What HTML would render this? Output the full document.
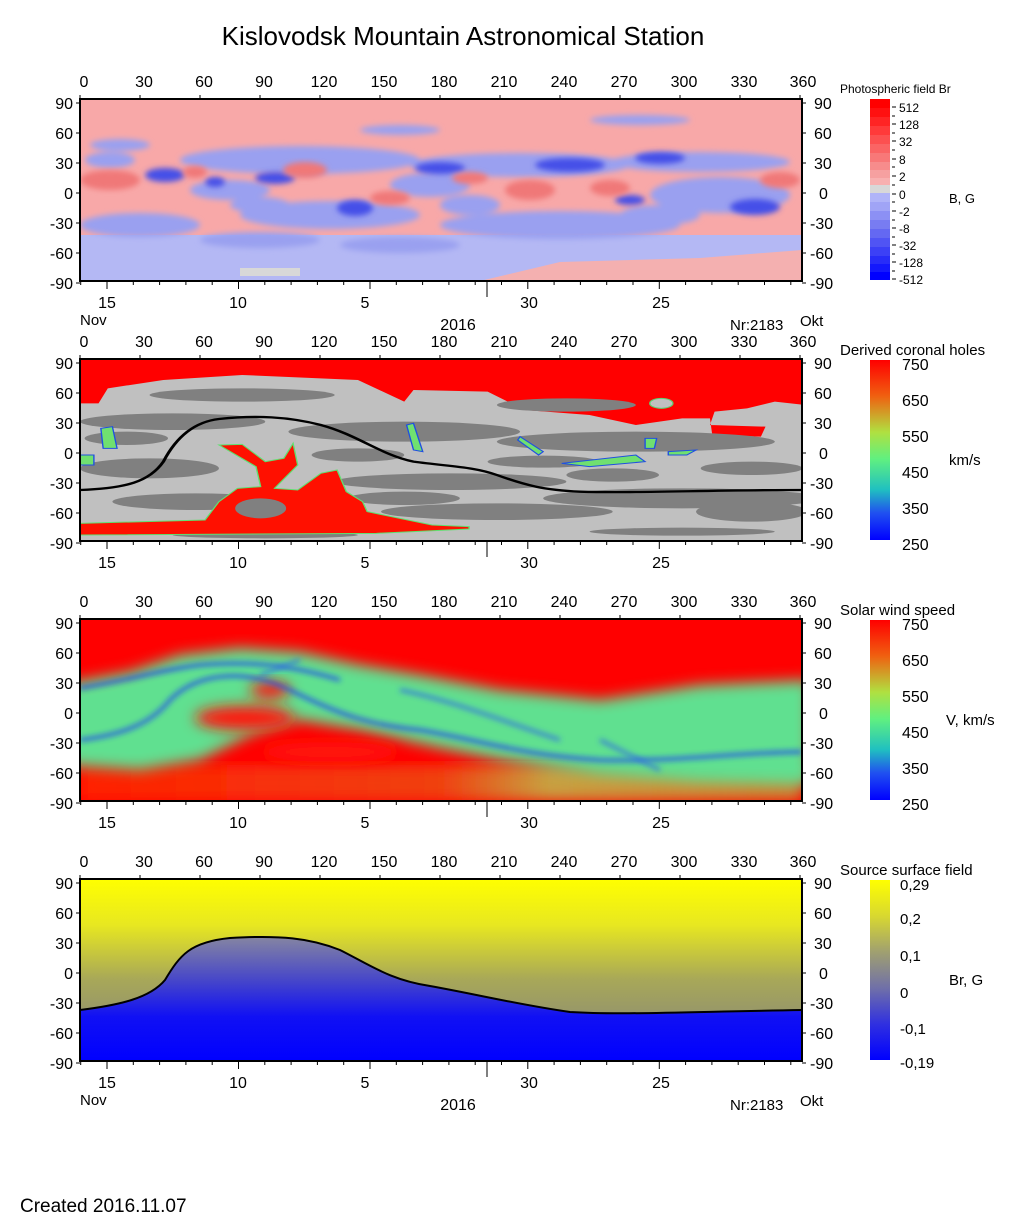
<!DOCTYPE html>
<html><head><meta charset="utf-8"><style>
body{margin:0;background:#fff}
svg{display:block;font-family:"Liberation Sans",Arial,sans-serif}
</style></head><body>
<svg width="1020" height="1223" viewBox="0 0 1020 1223" xmlns="http://www.w3.org/2000/svg">
<defs>
<filter id="b3"><feGaussianBlur stdDeviation="3"/></filter>
<filter id="b6"><feGaussianBlur stdDeviation="7"/></filter>
<clipPath id="c1"><rect x="80" y="99" width="722" height="182"/></clipPath>
<clipPath id="c2"><rect x="80" y="359" width="722" height="182"/></clipPath>
<clipPath id="c3"><rect x="80" y="619" width="722" height="182"/></clipPath>
<clipPath id="c4"><rect x="80" y="879" width="722" height="182"/></clipPath>
<linearGradient id="rain" x1="0" y1="0" x2="0" y2="1">
<stop offset="0" stop-color="#ff0000"/><stop offset="0.2" stop-color="#f06010"/><stop offset="0.4" stop-color="#b0e040"/><stop offset="0.55" stop-color="#60f080"/><stop offset="0.72" stop-color="#20c0c0"/><stop offset="0.85" stop-color="#2050f0"/><stop offset="1" stop-color="#0000ff"/></linearGradient>
<linearGradient id="ssf" x1="0" y1="0" x2="0" y2="1">
<stop offset="0" stop-color="#ffff00"/><stop offset="0.2" stop-color="#d8d830"/><stop offset="0.4" stop-color="#a0a070"/><stop offset="0.6" stop-color="#7070a8"/><stop offset="0.8" stop-color="#3030e0"/><stop offset="1" stop-color="#0000ff"/></linearGradient>
<linearGradient id="up4" gradientUnits="userSpaceOnUse" x1="0" y1="879" x2="0" y2="1061">
<stop offset="0" stop-color="#ffff00"/><stop offset="0.25" stop-color="#e8e820"/><stop offset="0.55" stop-color="#a8a858"/><stop offset="1" stop-color="#808080"/></linearGradient>
<linearGradient id="dn4" gradientUnits="userSpaceOnUse" x1="0" y1="935" x2="0" y2="1061">
<stop offset="0" stop-color="#8888a0"/><stop offset="0.35" stop-color="#4848c8"/><stop offset="0.65" stop-color="#1010f4"/><stop offset="1" stop-color="#0000ff"/></linearGradient>
<linearGradient id="bot3" gradientUnits="userSpaceOnUse" x1="80" y1="0" x2="802" y2="0">
<stop offset="0" stop-color="#ff2000"/><stop offset="0.5" stop-color="#f04010"/><stop offset="0.65" stop-color="#c8a040"/><stop offset="1" stop-color="#d08030"/></linearGradient>
<g id="ticks">
<path d="M80,-4V0M140,-4V0M200,-4V0M260,-4V0M320,-4V0M380,-4V0M440,-4V0M500,-4V0M560,-4V0M620,-4V0M680,-4V0M740,-4V0M800,-4V0" stroke="#000" stroke-width="1"/>
<path d="M76,4H80M76,34H80M76,64H80M76,94H80M76,124H80M76,154H80M76,184H80M802,4H806M802,34H806M802,64H806M802,94H806M802,124H806M802,154H806M802,184H806" stroke="#000"/>
<path d="M80.7,182v4M133.3,182v4M159.6,182v4M185.9,182v4M212.2,182v4M264.8,182v4M291.1,182v4M317.4,182v4M343.7,182v4M396.3,182v4M422.6,182v4M448.9,182v4M475.2,182v4M501.5,182v4M554.1,182v4M580.4,182v4M606.7,182v4M633,182v4M685.6,182v4M711.9,182v4M738.2,182v4M764.5,182v4M790.8,182v4M107,182v8M238.5,182v8M370,182v8M527.8,182v8M659.3,182v8M487,182v16" stroke="#000"/>
</g>
</defs>

<text x="463" y="45" font-size="26" text-anchor="middle">Kislovodsk Mountain Astronomical Station</text>

<!-- PANEL 1 -->
<g clip-path="url(#c1)">
<rect x="80" y="99" width="722" height="182" fill="#f8a8a8"/>
<rect x="80" y="235" width="722" height="46" fill="#b4b8f4"/>
<path d="M480,281 L560,262 L700,258 L802,250 L802,281Z" fill="#f4b0b0"/>
<rect x="240" y="268" width="60" height="8" fill="#d8d8d8"/>
<g fill="#9aa0f0" filter="url(#b3)">
<ellipse cx="300" cy="160" rx="120" ry="14"/><ellipse cx="520" cy="165" rx="110" ry="12"/><ellipse cx="700" cy="162" rx="90" ry="10"/>
<ellipse cx="140" cy="225" rx="60" ry="12"/><ellipse cx="330" cy="215" rx="90" ry="14"/><ellipse cx="560" cy="225" rx="120" ry="14"/><ellipse cx="720" cy="195" rx="70" ry="18"/>
<ellipse cx="230" cy="190" rx="40" ry="10"/><ellipse cx="470" cy="205" rx="30" ry="10"/><ellipse cx="120" cy="145" rx="30" ry="6"/><ellipse cx="400" cy="130" rx="40" ry="5"/><ellipse cx="640" cy="120" rx="50" ry="5"/>
<ellipse cx="260" cy="240" rx="60" ry="8"/><ellipse cx="400" cy="245" rx="60" ry="8"/>
<ellipse cx="430" cy="185" rx="40" ry="12"/><ellipse cx="260" cy="205" rx="30" ry="8"/><ellipse cx="660" cy="215" rx="40" ry="10"/><ellipse cx="110" cy="160" rx="25" ry="8"/>
</g>
<g fill="#4450e8" filter="url(#b3)">
<ellipse cx="165" cy="175" rx="20" ry="7"/><ellipse cx="215" cy="182" rx="10" ry="5"/><ellipse cx="275" cy="178" rx="20" ry="6"/><ellipse cx="355" cy="208" rx="18" ry="8"/><ellipse cx="440" cy="168" rx="25" ry="6"/><ellipse cx="570" cy="165" rx="35" ry="7"/><ellipse cx="660" cy="158" rx="25" ry="6"/><ellipse cx="755" cy="207" rx="25" ry="8"/><ellipse cx="630" cy="200" rx="15" ry="5"/>
</g>
<g fill="#f07878" filter="url(#b3)">
<ellipse cx="110" cy="180" rx="30" ry="10"/><ellipse cx="195" cy="172" rx="12" ry="6"/><ellipse cx="305" cy="170" rx="22" ry="8"/><ellipse cx="390" cy="198" rx="20" ry="7"/><ellipse cx="530" cy="190" rx="25" ry="10"/><ellipse cx="610" cy="188" rx="20" ry="8"/><ellipse cx="470" cy="178" rx="18" ry="6"/><ellipse cx="780" cy="180" rx="20" ry="8"/>
</g>
</g>
<rect x="80" y="99" width="722" height="182" fill="none" stroke="#000" stroke-width="2"/>
<use href="#ticks" transform="translate(0,99)"/>

<!-- PANEL 2 -->
<g clip-path="url(#c2)">
<rect x="80" y="359" width="722" height="182" fill="#c0c0c0"/>
<g transform="translate(80,355) scale(0.4632,0.3333)">
<path d="M0,13 H1565 V150 L1500,140 L1440,160 L1370,170 L1360,210 L1480,215 L1470,245 L1365,240 L1360,190 L1300,190 L1200,210 L1100,180 L960,165 L880,110 L720,105 L700,140 L600,75 L350,60 L180,75 L60,100 L40,145 L0,145Z" fill="#ff0000"/>
<g fill="#808080">
<ellipse cx="200" cy="200" rx="200" ry="25"/><ellipse cx="700" cy="230" rx="250" ry="30"/><ellipse cx="1200" cy="260" rx="300" ry="30"/><ellipse cx="350" cy="120" rx="200" ry="20"/><ellipse cx="1050" cy="150" rx="150" ry="20"/>
<ellipse cx="150" cy="340" rx="150" ry="30"/><ellipse cx="800" cy="380" rx="250" ry="25"/><ellipse cx="1300" cy="430" rx="300" ry="30"/><ellipse cx="250" cy="440" rx="180" ry="25"/><ellipse cx="900" cy="470" rx="250" ry="25"/>
<ellipse cx="600" cy="300" rx="100" ry="20"/><ellipse cx="1000" cy="320" rx="120" ry="18"/><ellipse cx="1450" cy="340" rx="110" ry="20"/><ellipse cx="400" cy="540" rx="200" ry="10"/><ellipse cx="1300" cy="530" rx="200" ry="12"/>
<ellipse cx="1450" cy="470" rx="120" ry="30"/><ellipse cx="700" cy="430" rx="120" ry="20"/><ellipse cx="100" cy="250" rx="90" ry="20"/><ellipse cx="1150" cy="360" rx="100" ry="20"/>
</g>
<path d="M0,505 L270,495 L300,440 L340,400 L390,395 L380,335 L300,270 L350,268 L400,320 L440,310 L460,265 L470,330 L420,400 L470,405 L520,355 L555,345 L575,410 L610,440 L620,470 L760,510 L840,515 L840,522 L640,535 L0,540Z" fill="#ff1000" stroke="#60e070" stroke-width="3"/>
<ellipse cx="390" cy="460" rx="55" ry="30" fill="#808080"/>
<path d="M1040,325 L1200,300 L1220,320 L1100,335Z M1270,290 L1330,285 L1310,300 L1270,300Z M1220,250 L1245,250 L1240,280 L1220,280Z M45,220 L70,215 L80,280 L50,280Z M705,210 L720,205 L740,290 L720,285Z M0,300 L30,300 L30,330 L0,330Z M950,245 L1000,290 L990,300 L945,255Z" fill="#70e070" stroke="#2050e0" stroke-width="3"/>
<ellipse cx="1255" cy="145" rx="25" ry="15" fill="#c0c0c0" stroke="#60d070" stroke-width="3"/>
<path d="M0,405 C100,400 150,380 180,320 C210,240 250,200 300,192 C380,180 450,185 520,210 C600,240 650,300 720,320 C800,335 850,335 900,360 C960,390 1000,405 1080,410 C1200,415 1350,405 1560,405" fill="none" stroke="#000" stroke-width="7"/>
</g>
</g>
<rect x="80" y="359" width="722" height="182" fill="none" stroke="#000" stroke-width="2"/>
<use href="#ticks" transform="translate(0,359)"/>

<!-- PANEL 3 -->
<g clip-path="url(#c3)">
<rect x="80" y="619" width="722" height="182" fill="#ff0000"/>
<rect x="80" y="765" width="722" height="36" fill="url(#bot3)" filter="url(#b6)"/>
<path d="M60,685 L130,672 L180,655 L240,648 L300,652 L360,665 L420,675 L500,690 L600,700 L700,685 L810,680 L810,785 L700,782 L600,775 L500,760 L440,748 L360,730 L300,720 L250,735 L200,760 L140,770 L60,765Z" fill="#60e090" filter="url(#b6)"/>
<g fill="#ff1808" filter="url(#b6)">
<ellipse cx="245" cy="718" rx="50" ry="12"/><ellipse cx="330" cy="752" rx="70" ry="10"/><ellipse cx="270" cy="690" rx="20" ry="8"/>
</g>
<path d="M80,688 C130,680 160,670 200,665 C260,660 300,668 340,680 M80,740 C120,735 150,725 170,700 C200,670 250,670 290,690 C340,715 370,725 420,730 C480,740 520,755 600,760 C680,762 740,752 802,752" fill="none" stroke="#1a40f0" stroke-width="3" filter="url(#b3)"/>
<path d="M400,690 C450,700 500,720 560,740 M600,740 L660,770 M260,675 L300,660" fill="none" stroke="#3070e0" stroke-width="3" filter="url(#b3)"/>
</g>
<rect x="80" y="619" width="722" height="182" fill="none" stroke="#000" stroke-width="2"/>
<use href="#ticks" transform="translate(0,619)"/>

<!-- PANEL 4 -->
<g clip-path="url(#c4)">
<rect x="80" y="879" width="722" height="182" fill="url(#up4)"/>
<path d="M80,1010 C120,1005 150,998 165,980 C180,955 190,942 230,938 C280,935 310,938 340,950 C370,965 390,980 430,986 C480,995 520,1005 570,1012 C620,1015 680,1012 802,1010 L802,1061 L80,1061Z" fill="url(#dn4)"/>
<path d="M80,1010 C120,1005 150,998 165,980 C180,955 190,942 230,938 C280,935 310,938 340,950 C370,965 390,980 430,986 C480,995 520,1005 570,1012 C620,1015 680,1012 802,1010" fill="none" stroke="#000" stroke-width="2"/>
</g>
<rect x="80" y="879" width="722" height="182" fill="none" stroke="#000" stroke-width="2"/>
<use href="#ticks" transform="translate(0,879)"/>

<!-- axis labels -->
<g font-size="16" text-anchor="middle">
<text x="84" y="87">0</text><text x="144" y="87">30</text><text x="204" y="87">60</text><text x="264" y="87">90</text><text x="324" y="87">120</text><text x="384" y="87">150</text><text x="444" y="87">180</text><text x="504" y="87">210</text><text x="564" y="87">240</text><text x="624" y="87">270</text><text x="684" y="87">300</text><text x="744" y="87">330</text><text x="803" y="87">360</text>
<text x="84" y="347">0</text><text x="144" y="347">30</text><text x="204" y="347">60</text><text x="264" y="347">90</text><text x="324" y="347">120</text><text x="384" y="347">150</text><text x="444" y="347">180</text><text x="504" y="347">210</text><text x="564" y="347">240</text><text x="624" y="347">270</text><text x="684" y="347">300</text><text x="744" y="347">330</text><text x="803" y="347">360</text>
<text x="84" y="607">0</text><text x="144" y="607">30</text><text x="204" y="607">60</text><text x="264" y="607">90</text><text x="324" y="607">120</text><text x="384" y="607">150</text><text x="444" y="607">180</text><text x="504" y="607">210</text><text x="564" y="607">240</text><text x="624" y="607">270</text><text x="684" y="607">300</text><text x="744" y="607">330</text><text x="803" y="607">360</text>
<text x="84" y="867">0</text><text x="144" y="867">30</text><text x="204" y="867">60</text><text x="264" y="867">90</text><text x="324" y="867">120</text><text x="384" y="867">150</text><text x="444" y="867">180</text><text x="504" y="867">210</text><text x="564" y="867">240</text><text x="624" y="867">270</text><text x="684" y="867">300</text><text x="744" y="867">330</text><text x="803" y="867">360</text>
</g>
<g font-size="16" text-anchor="end">
<text x="73" y="109">90</text><text x="73" y="139">60</text><text x="73" y="169">30</text><text x="73" y="199">0</text><text x="73" y="229">-30</text><text x="73" y="259">-60</text><text x="73" y="289">-90</text>
<text x="73" y="369">90</text><text x="73" y="399">60</text><text x="73" y="429">30</text><text x="73" y="459">0</text><text x="73" y="489">-30</text><text x="73" y="519">-60</text><text x="73" y="549">-90</text>
<text x="73" y="629">90</text><text x="73" y="659">60</text><text x="73" y="689">30</text><text x="73" y="719">0</text><text x="73" y="749">-30</text><text x="73" y="779">-60</text><text x="73" y="809">-90</text>
<text x="73" y="889">90</text><text x="73" y="919">60</text><text x="73" y="949">30</text><text x="73" y="979">0</text><text x="73" y="1009">-30</text><text x="73" y="1039">-60</text><text x="73" y="1069">-90</text>
</g>
<g font-size="16" text-anchor="start">
<text x="814" y="109">90</text><text x="814" y="139">60</text><text x="814" y="169">30</text><text x="819" y="199">0</text><text x="810" y="229">-30</text><text x="810" y="259">-60</text><text x="810" y="289">-90</text>
<text x="814" y="369">90</text><text x="814" y="399">60</text><text x="814" y="429">30</text><text x="819" y="459">0</text><text x="810" y="489">-30</text><text x="810" y="519">-60</text><text x="810" y="549">-90</text>
<text x="814" y="629">90</text><text x="814" y="659">60</text><text x="814" y="689">30</text><text x="819" y="719">0</text><text x="810" y="749">-30</text><text x="810" y="779">-60</text><text x="810" y="809">-90</text>
<text x="814" y="889">90</text><text x="814" y="919">60</text><text x="814" y="949">30</text><text x="819" y="979">0</text><text x="810" y="1009">-30</text><text x="810" y="1039">-60</text><text x="810" y="1069">-90</text>
</g>
<g font-size="16" text-anchor="middle">
<text x="107" y="308">15</text><text x="238" y="308">10</text><text x="365" y="308">5</text><text x="529" y="308">30</text><text x="661" y="308">25</text>
<text x="107" y="568">15</text><text x="238" y="568">10</text><text x="365" y="568">5</text><text x="529" y="568">30</text><text x="661" y="568">25</text>
<text x="107" y="828">15</text><text x="238" y="828">10</text><text x="365" y="828">5</text><text x="529" y="828">30</text><text x="661" y="828">25</text>
<text x="107" y="1088">15</text><text x="238" y="1088">10</text><text x="365" y="1088">5</text><text x="529" y="1088">30</text><text x="661" y="1088">25</text>
<text x="458" y="330">2016</text><text x="458" y="1110">2016</text>
</g>
<g font-size="15">
<text x="80" y="325">Nov</text><text x="730" y="330">Nr:2183</text><text x="800" y="326">Okt</text>
<text x="80" y="1105">Nov</text><text x="730" y="1110">Nr:2183</text><text x="800" y="1106">Okt</text>
</g>

<!-- colorbars -->
<text x="840" y="93" font-size="12">Photospheric field Br</text>
<g>
<rect x="870" y="99" width="20" height="9" fill="#ff0000"/><rect x="870" y="108" width="20" height="9" fill="#ff1010"/><rect x="870" y="117" width="20" height="9" fill="#ff2424"/><rect x="870" y="126" width="20" height="9" fill="#ff3a3a"/><rect x="870" y="135" width="20" height="9" fill="#fc5050"/><rect x="870" y="144" width="20" height="9" fill="#fa6464"/><rect x="870" y="153" width="20" height="9" fill="#f87878"/><rect x="870" y="162" width="20" height="8" fill="#f78c8c"/><rect x="870" y="170" width="20" height="8" fill="#f6a0a0"/><rect x="870" y="178" width="20" height="7" fill="#f8b0b0"/>
<rect x="870" y="185" width="20" height="8" fill="#d8d8d8"/>
<rect x="870" y="193" width="20" height="9" fill="#b0b4f8"/><rect x="870" y="202" width="20" height="9" fill="#a0a4f6"/><rect x="870" y="211" width="20" height="9" fill="#8c90f4"/><rect x="870" y="220" width="20" height="9" fill="#787cf2"/><rect x="870" y="229" width="20" height="9" fill="#6468f2"/><rect x="870" y="238" width="20" height="9" fill="#5054f4"/><rect x="870" y="247" width="20" height="9" fill="#3c40f6"/><rect x="870" y="256" width="20" height="8" fill="#282cf8"/><rect x="870" y="264" width="20" height="8" fill="#1418fc"/><rect x="870" y="272" width="20" height="8" fill="#0000ff"/>
</g>
<path d="M892,107h4M892,116h3M892,124h4M892,133h3M892,141h4M892,150h3M892,159h4M892,167h3M892,176h4M892,185h3M892,194h4M892,202h3M892,211h4M892,220h3M892,228h4M892,237h3M892,245h4M892,254h3M892,262h4M892,271h3M892,279h4" stroke="#000"/>
<g font-size="12">
<text x="899" y="112">512</text><text x="899" y="129">128</text><text x="899" y="146">32</text><text x="899" y="164">8</text><text x="899" y="181">2</text><text x="899" y="199">0</text><text x="899" y="216">-2</text><text x="899" y="233">-8</text><text x="899" y="250">-32</text><text x="899" y="267">-128</text><text x="899" y="284">-512</text>
</g>
<text x="949" y="203" font-size="13">B, G</text>

<text x="840" y="355" font-size="15">Derived coronal holes</text>
<rect x="870" y="360" width="20" height="180" fill="url(#rain)"/>
<g font-size="16"><text x="902" y="370">750</text><text x="902" y="406">650</text><text x="902" y="442">550</text><text x="902" y="478">450</text><text x="902" y="514">350</text><text x="902" y="550">250</text></g>
<text x="949" y="465" font-size="15">km/s</text>

<text x="840" y="615" font-size="15">Solar wind speed</text>
<rect x="870" y="620" width="20" height="180" fill="url(#rain)"/>
<g font-size="16"><text x="902" y="630">750</text><text x="902" y="666">650</text><text x="902" y="702">550</text><text x="902" y="738">450</text><text x="902" y="774">350</text><text x="902" y="810">250</text></g>
<text x="946" y="725" font-size="15">V, km/s</text>

<text x="840" y="875" font-size="15">Source surface field</text>
<rect x="870" y="880" width="20" height="180" fill="url(#ssf)"/>
<g font-size="15"><text x="900" y="890">0,29</text><text x="900" y="924">0,2</text><text x="900" y="961">0,1</text><text x="900" y="998">0</text><text x="900" y="1034">-0,1</text><text x="900" y="1068">-0,19</text></g>
<text x="949" y="985" font-size="15">Br, G</text>

<text x="20" y="1212" font-size="19">Created  2016.11.07</text>
</svg>
</body></html>
